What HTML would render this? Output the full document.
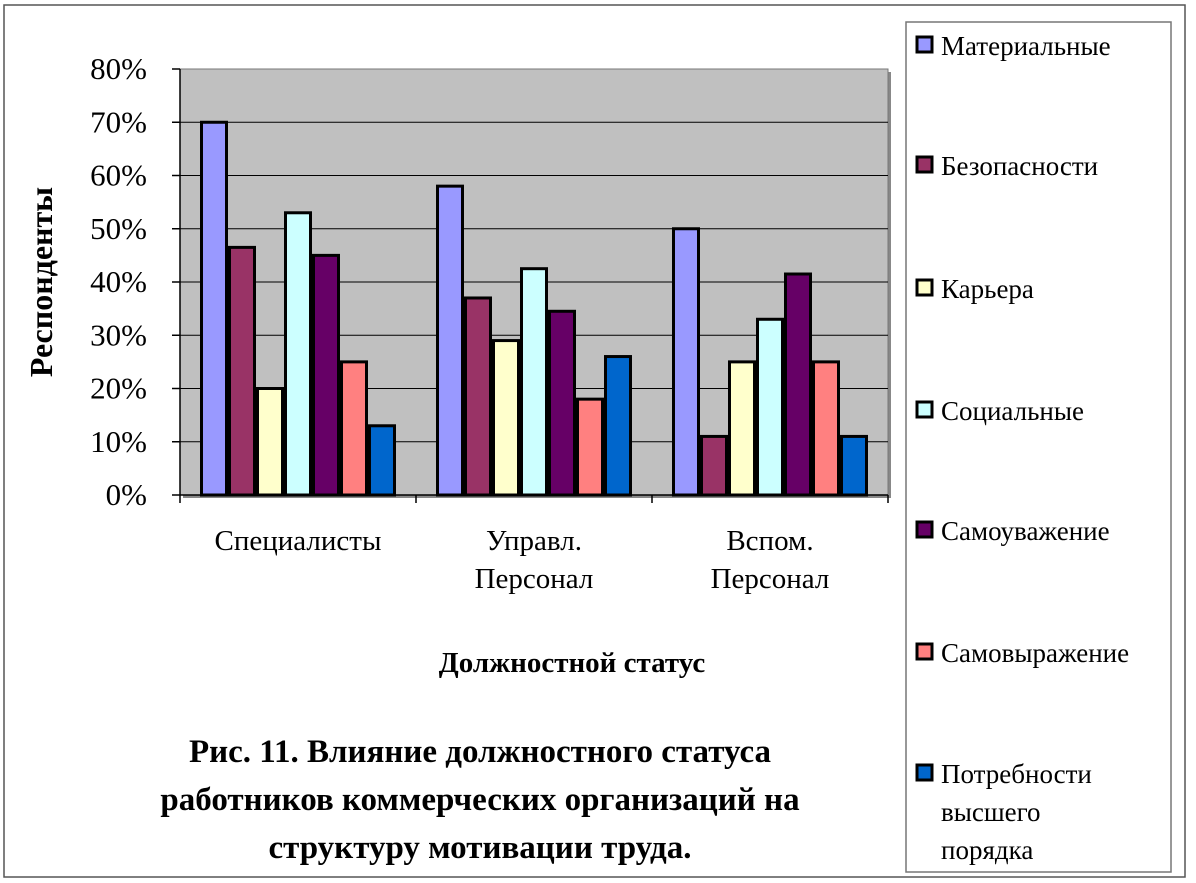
<!DOCTYPE html>
<html><head><meta charset="utf-8"><style>
body{margin:0;background:#fff;}
svg{display:block;font-family:"Liberation Serif",serif;}
</style></head><body>
<svg id="c" width="1196" height="883" xmlns="http://www.w3.org/2000/svg">
<rect x="4" y="5" width="1181" height="872" fill="#fff" stroke="#555" stroke-width="1.5"/>
<rect x="183" y="72" width="708" height="426" fill="#888"/>
<rect x="180" y="69" width="708" height="426" fill="#c0c0c0" stroke="#777" stroke-width="1"/>
<g id="grid"></g><g id="bars"></g><g id="axes"></g>
<text transform="translate(52,282) rotate(-90)" text-anchor="middle" font-size="32" font-weight="bold">Респонденты</text>
<text x="572" y="672" text-anchor="middle" font-size="29" font-weight="bold">Должностной статус</text>
<g font-size="33" font-weight="bold" text-anchor="middle">
<text x="480" y="762">Рис. 11. Влияние должностного статуса</text>
<text x="480" y="810">работников коммерческих организаций на</text>
<text x="480" y="858">структуру мотивации труда.</text>
</g>
<rect x="906" y="22" width="265" height="850" fill="#fff" stroke="#777" stroke-width="1.5"/>
<g id="legend"></g>
</svg>
<script>
const categories=[["Специалисты"],["Управл.","Персонал"],["Вспом.","Персонал"]];
const seriesNames=["Материальные","Безопасности","Карьера","Социальные","Самоуважение","Самовыражение","Потребности высшего порядка"];
const seriesColors=["#9999ff","#993366","#ffffcc","#ccffff","#660066","#ff8080","#0066cc"];
const materialnye=[70,58,50];
const bezopasnosti=[46.5,37,11];
const kariera=[20,29,25];
const socialnye=[53,42.5,33];
const samouvazhenie=[45,34.5,41.5];
const samovyrazhenie=[25,18,25];
const potrebnosti=[13,26,11];
const yTicks=[0,10,20,30,40,50,60,70,80];
const series=[materialnye,bezopasnosti,kariera,socialnye,samouvazhenie,samovyrazhenie,potrebnosti];
const NS="http://www.w3.org/2000/svg";
const X0=180,X1=888,Y0=495,Y1=69,YMAX=80;
const y=v=>Y0-(v/YMAX)*(Y0-Y1);
const catW=(X1-X0)/categories.length;
const barW=28;
const bx=(c,s)=>X0+c*catW+(catW-barW*series.length)/2+s*barW;
function mk(tag,attrs,parent){const e=document.createElementNS(NS,tag);for(const k in attrs)e.setAttribute(k,attrs[k]);parent.appendChild(e);return e;}
const grid=document.getElementById('grid'),bars=document.getElementById('bars'),axes=document.getElementById('axes'),leg=document.getElementById('legend');
yTicks.forEach(t=>{
 if(t>0&&t<YMAX){const g=mk('line',{x1:X0,x2:X1,y1:y(t),y2:y(t),stroke:'#000','stroke-width':1},grid);
 
 }
 const tk=mk('line',{x1:X0-8,x2:X0,y1:y(t),y2:y(t),stroke:'#000','stroke-width':1.5},axes);
 
 
 const tx=mk('text',{x:147,y:y(t)+10,'text-anchor':'end','font-size':31},axes);
 tx.textContent=t+'%';
 
 
});
series.forEach((vals,s)=>vals.forEach((v,c)=>{
 const r=mk('rect',{x:bx(c,s)+1.5,y:y(v),width:barW-3,height:Y0-y(v),fill:seriesColors[s],stroke:'#000','stroke-width':3},bars);
 
 
}));
const ax=mk('line',{x1:X0,x2:X0,y1:Y1,y2:Y0,stroke:'#000','stroke-width':1.5},axes);


const xa=mk('line',{x1:X0,x2:X1,y1:Y0,y2:Y0,stroke:'#000','stroke-width':1.5},axes);


for(let i=0;i<=categories.length;i++){const t=mk('line',{x1:X0+i*catW,x2:X0+i*catW,y1:Y0,y2:Y0+8,stroke:'#000','stroke-width':1.5},axes);
 
 }
categories.forEach((lines,c)=>lines.forEach((l,k)=>{
 const t=mk('text',{x:X0+(c+0.5)*catW,y:550+k*38,'text-anchor':'middle','font-size':29},axes);
 t.textContent=l;
 
 
}));
const legY=[46,166,289,411,531,653,774];
seriesNames.forEach((n,i)=>{
 const r=mk('rect',{x:917,y:legY[i]-9,width:15,height:15,fill:seriesColors[i],stroke:'#000','stroke-width':3},leg);
 
 
 const words=i===6?["Потребности","высшего","порядка"]:[n];
 words.forEach((w,k)=>{const t=mk('text',{x:941,y:legY[i]+9+k*38,'font-size':27},leg);
 t.textContent=w;
 
 });
});
</script>
</body></html>
